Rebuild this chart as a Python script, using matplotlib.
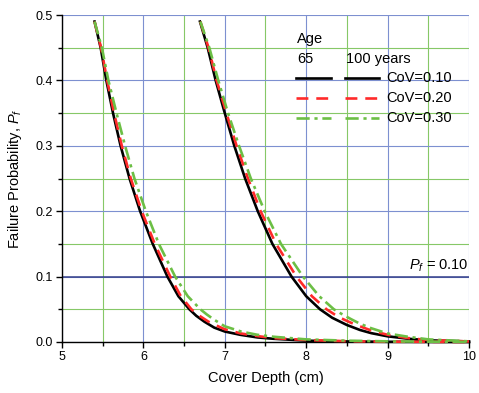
"""Failure probability versus concrete cover depth, ages 65 and 100 years."""

import matplotlib

matplotlib.use("Agg")
import matplotlib.pyplot as plt
from matplotlib.lines import Line2D
from matplotlib.ticker import FormatStrFormatter, MultipleLocator

plt.rcParams["font.family"] = ["Liberation Sans", "DejaVu Sans"]
plt.rcParams["mathtext.fontset"] = "custom"
plt.rcParams["mathtext.rm"] = "Liberation Sans"
plt.rcParams["mathtext.it"] = "Liberation Sans:italic"

# --- data ------------------------------------------------------------------
# age 65 years
DEPTH_65_COV10 = [5.40, 5.475, 5.545, 5.627, 5.72, 5.83, 5.96, 6.115, 6.295, 6.43,
                  6.565, 6.65, 6.75, 6.87, 7.00, 7.19, 7.40, 7.59, 8.00, 8.50, 9.00, 10.0]
PF_65_COV10 = [0.49, 0.45, 0.40, 0.35, 0.30, 0.25, 0.20, 0.15, 0.10, 0.07,
               0.05, 0.04, 0.031, 0.022, 0.016, 0.011, 0.007, 0.005, 0.002, 0.0008, 0.0003, 0.0]

DEPTH_65_COV20 = [5.40, 5.48, 5.555, 5.64, 5.735, 5.845, 5.98, 6.14, 6.33, 6.46,
                  6.59, 6.69, 6.80, 6.90, 7.00, 7.20, 7.40, 7.60, 8.00, 8.50, 9.00, 10.0]
PF_65_COV20 = [0.49, 0.45, 0.40, 0.35, 0.30, 0.25, 0.20, 0.15, 0.10, 0.07,
               0.05, 0.04, 0.031, 0.025, 0.0195, 0.013, 0.009, 0.006, 0.003, 0.0012, 0.0005, 0.0]

DEPTH_65_COV30 = [5.40, 5.49, 5.57, 5.67, 5.775, 5.89, 6.03, 6.19, 6.39, 6.545,
                  6.70, 6.78, 6.87, 7.00, 7.20, 7.40, 7.60, 8.00, 8.50, 9.00, 9.50, 10.0]
PF_65_COV30 = [0.49, 0.45, 0.40, 0.35, 0.30, 0.25, 0.20, 0.15, 0.10, 0.07,
               0.05, 0.042, 0.034, 0.024, 0.016, 0.011, 0.008, 0.004, 0.002, 0.001, 0.0005, 0.0002]

# age 100 years
DEPTH_100_COV10 = [6.695, 6.79, 6.888, 7.00, 7.117, 7.25, 7.405, 7.585, 7.82, 8.00,
                   8.17, 8.32, 8.50, 8.66, 8.80, 9.00, 9.25, 9.50, 10.0]
PF_100_COV10 = [0.49, 0.45, 0.40, 0.35, 0.30, 0.25, 0.20, 0.15, 0.10, 0.07,
                0.05, 0.037, 0.026, 0.0184, 0.0135, 0.0087, 0.005, 0.0025, 0.0008]

DEPTH_100_COV20 = [6.70, 6.80, 6.90, 7.02, 7.145, 7.285, 7.44, 7.63, 7.88, 8.07,
                   8.25, 8.40, 8.54, 8.66, 8.80, 9.00, 9.25, 9.50, 10.0]
PF_100_COV20 = [0.49, 0.45, 0.40, 0.35, 0.30, 0.25, 0.20, 0.15, 0.10, 0.07,
                0.05, 0.038, 0.030, 0.024, 0.0175, 0.011, 0.006, 0.003, 0.0008]

DEPTH_100_COV30 = [6.70, 6.81, 6.92, 7.04, 7.175, 7.32, 7.49, 7.69, 7.96, 8.16,
                   8.34, 8.42, 8.55, 8.66, 8.80, 9.00, 9.25, 9.50, 10.0]
PF_100_COV30 = [0.49, 0.45, 0.40, 0.35, 0.30, 0.25, 0.20, 0.15, 0.10, 0.07,
                0.05, 0.044, 0.035, 0.028, 0.021, 0.013, 0.008, 0.004, 0.001]

COV_LABELS = ["CoV=0.10", "CoV=0.20", "CoV=0.30"]
AGE_LABELS = ["65", "100 years"]
PF_TARGET = 0.10

# --- styles ----------------------------------------------------------------
STYLES = [
    dict(color="#000000", lw=1.9, linestyle="-"),
    dict(color="#ff2a2a", lw=1.9, linestyle=(0, (4.5, 3.0))),
    dict(color="#6cbf45", lw=1.9, linestyle=(0, (5.0, 1.8, 1.2, 1.8))),
]
BLUE_GRID = "#7d90d0"
GREEN_GRID = "#86c867"
TARGET_COLOR = "#34408a"

fig = plt.figure(figsize=(4.79, 3.93), dpi=100)
ax = fig.add_axes([0.1294, 0.1298, 0.8497, 0.832])

series = [
    (DEPTH_65_COV10, PF_65_COV10, 0), (DEPTH_100_COV10, PF_100_COV10, 0),
    (DEPTH_65_COV20, PF_65_COV20, 1), (DEPTH_100_COV20, PF_100_COV20, 1),
    (DEPTH_65_COV30, PF_65_COV30, 2), (DEPTH_100_COV30, PF_100_COV30, 2),
]
for depth, pf, k in series:
    ax.plot(depth, pf, zorder=4, clip_on=False, solid_joinstyle="round", **STYLES[k])

ax.set_xlim(5, 10)
ax.set_ylim(0, 0.5)
ax.xaxis.set_major_locator(MultipleLocator(1))
ax.xaxis.set_minor_locator(MultipleLocator(0.5))
ax.yaxis.set_major_locator(MultipleLocator(0.1))
ax.yaxis.set_minor_locator(MultipleLocator(0.05))
ax.yaxis.set_major_formatter(FormatStrFormatter("%.1f"))

ax.grid(which="major", color=BLUE_GRID, lw=0.8, zorder=1)
ax.grid(which="minor", color=GREEN_GRID, lw=0.8, zorder=1)
ax.set_axisbelow(True)
# no gridline on the frame edges
for gl in (ax.get_xgridlines()[-1], ax.get_ygridlines()[-1]):
    gl.set_visible(False)

ax.axhline(PF_TARGET, color=TARGET_COLOR, lw=1.1, zorder=2)
ax.text(0.998, 0.232, r"$P_f$ = 0.10", transform=ax.transAxes, ha="right",
        va="center", fontsize=10.5)

for side in ("top", "right"):
    ax.spines[side].set_visible(False)
for side in ("left", "bottom"):
    ax.spines[side].set_linewidth(1.0)

ax.tick_params(which="major", direction="out", length=4, width=1.0, labelsize=9,
               pad=2.5)
ax.tick_params(which="minor", direction="out", length=3, width=1.0)

ax.set_xlabel("Cover Depth (cm)", fontsize=10.5, labelpad=6)
ax.set_ylabel(r"Failure Probability, $P_f$", fontsize=10.5, labelpad=8)

# hand-built legend: one line sample per age column
tr = ax.transAxes
ax.text(0.577, 0.927, "Age", transform=tr, ha="left", va="center", fontsize=10.5)
ax.text(0.577, 0.865, AGE_LABELS[0], transform=tr, ha="left", va="center",
        fontsize=10.5)
ax.text(0.697, 0.865, AGE_LABELS[1], transform=tr, ha="left", va="center",
        fontsize=10.5)
for row, (label, style) in enumerate(zip(COV_LABELS, STYLES)):
    yy = 0.807 - row * 0.0605
    for x0, x1 in ((0.575, 0.660), (0.695, 0.779)):
        ax.add_line(Line2D([x0, x1], [yy, yy], transform=tr, zorder=5, **style))
    ax.text(0.797, yy, label, transform=tr, ha="left", va="center", fontsize=10.5)

fig.savefig("out.png", dpi=100)
